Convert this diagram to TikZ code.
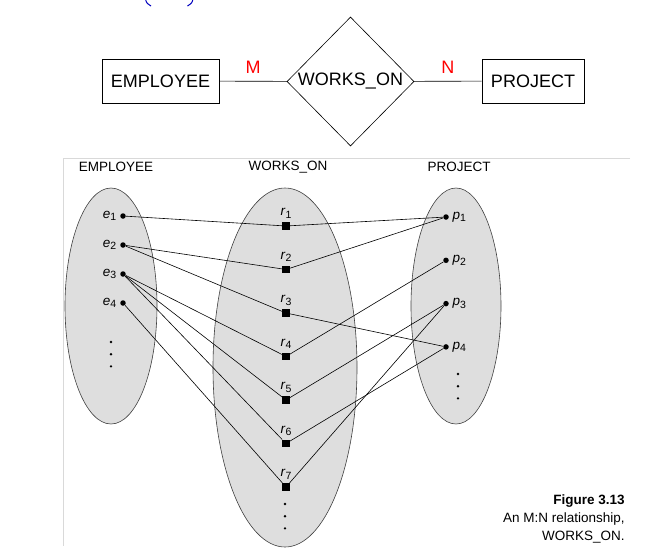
\documentclass[tikz,border=0pt]{standalone}
\usepackage{fontspec}
\setmainfont{Liberation Sans}
\usetikzlibrary{shapes.geometric,positioning}
\newcommand{\elab}[2]{\textit{#1}\raisebox{-2.5pt}{\fontsize{10.5}{11}\selectfont#2}}
\begin{document}
\begin{tikzpicture}[x=1pt, y=-1pt, line width=0.6pt,
  ent box/.style={rectangle,draw,inner sep=0pt,minimum height=44pt,font=\fontsize{18}{20}\selectfont},
  rel box/.style={diamond,draw,inner sep=0pt,minimum width=127pt,minimum height=129pt,font=\fontsize{18}{20}\selectfont},
  card/.style={text=red,font=\fontsize{18}{20}\selectfont},
  set node/.style={ellipse,draw=black!75,fill=black!13,inner sep=0pt},
  head/.style={font=\fontsize{13.5}{15}\selectfont},
  elem/.style={circle,fill,inner sep=0pt,minimum size=5.5pt,label distance=1pt},
  rel elem/.style={rectangle,fill,inner sep=0pt,minimum size=7.5pt,label distance=0pt},
  more/.style={circle,fill,inner sep=0pt,minimum size=2.6pt},
  tag/.style={font=\fontsize{13.5}{14}\selectfont}]
\useasboundingbox (0,0) rectangle (649,555);
% top: ER diagram
\node[ent box,minimum width=117pt](emp) at (160.5,81){EMPLOYEE};
\node[rel box](works) at (350.5,81.5){WORKS\_ON};
\node[ent box,minimum width=102pt](proj) at (533,81){PROJECT};
\draw(emp)to node[card,above,yshift=4pt](m){M}(works);
\draw(works)to node[card,above,yshift=4pt](n){N}(proj);
% clipped title brackets
\draw[blue!75!black,line width=1pt](145.5,-1) .. controls (146.5,3) .. (151,6);
\draw[blue!75!black,line width=1pt](193,-1) .. controls (192,3) .. (187.5,6);
% bottom: instance diagram
\draw[black!15](630,158)--(63,158)--(63,546);
\node[head](h1) at (116,167){EMPLOYEE};
\node[head](h2) at (288,167){WORKS\_ON};
\node[head](h3) at (459,167){PROJECT};
\node[set node,minimum width=92pt,minimum height=236pt](eset) at (111,306){};
\node[set node,minimum width=144pt,minimum height=359pt](wset) at (285,367.5){};
\node[set node,minimum width=90pt,minimum height=236pt](pset) at (456,306){};
% employees
\begin{scope}[node distance=29pt]
\node[elem,label={[tag]left:\elab{e}{1}}](e1) at (123,216){};
\node[elem,label={[tag]left:\elab{e}{2}}](e2)[below of=e1]{};
\node[elem,label={[tag]left:\elab{e}{3}}](e3)[below of=e2]{};
\node[elem,label={[tag]left:\elab{e}{4}}](e4)[below of=e3]{};
\end{scope}
\node[more](ed1) at (111,342){};
\node[more](ed2)[below=9pt of ed1]{};
\node[more](ed3)[below=9pt of ed2]{};
% relationship instances
\begin{scope}[node distance=43.5pt]
\node[rel elem,label={[tag]above:\elab{r}{1}}](r1) at (286,226){};
\node[rel elem,label={[tag]above:\elab{r}{2}}](r2)[below of=r1]{};
\node[rel elem,label={[tag]above:\elab{r}{3}}](r3)[below of=r2]{};
\node[rel elem,label={[tag]above:\elab{r}{4}}](r4)[below of=r3]{};
\node[rel elem,label={[tag]above:\elab{r}{5}}](r5)[below of=r4]{};
\node[rel elem,label={[tag]above:\elab{r}{6}}](r6)[below of=r5]{};
\node[rel elem,label={[tag]above:\elab{r}{7}}](r7)[below of=r6]{};
\end{scope}
\node[more](rd1) at (285,504){};
\node[more](rd2)[below=9pt of rd1]{};
\node[more](rd3)[below=9pt of rd2]{};
% projects
\begin{scope}[node distance=43.3pt]
\node[elem,label={[tag]right:\elab{p}{1}}](p1) at (446,217){};
\node[elem,label={[tag]right:\elab{p}{2}}](p2)[below of=p1]{};
\node[elem,label={[tag]right:\elab{p}{3}}](p3)[below of=p2]{};
\node[elem,label={[tag]right:\elab{p}{4}}](p4)[below of=p3]{};
\end{scope}
\node[more](pd1) at (458,374){};
\node[more](pd2)[below=9pt of pd1]{};
\node[more](pd3)[below=9pt of pd2]{};
\draw[-](e1)to(r1);
\draw[-](e2)to(r2);
\draw[-](e2)to(r3);
\draw[-](e3)to(r4);
\draw[-](e3)to(r5);
\draw[-](e3)to(r6);
\draw[-](e4)to(r7);
\draw[-](r1)to(p1);
\draw[-](r2)to(p1);
\draw[-](r3)to(p4);
\draw[-](r4)to(p2);
\draw[-](r5)to(p3);
\draw[-](r6)to(p4);
\draw[-](r7)to(p3);
% caption
\node[anchor=north east,align=right,inner sep=0pt,font=\fontsize{13.5}{18}\selectfont](cap) at (625,494)
  {\textbf{Figure 3.13}\\An M:N relationship,\\WORKS\_ON.};
\end{tikzpicture}
\end{document}
